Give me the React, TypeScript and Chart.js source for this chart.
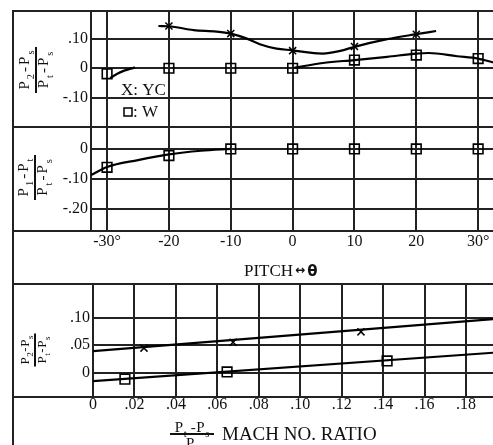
import React, { useEffect, useRef } from 'react';
import { Chart, registerables } from 'chart.js';

Chart.register(...registerables);

const WIDTH = 493;
const HEIGHT = 445;
const SERIF = '"Liberation Serif", "Times New Roman", Times, serif';
const SANS = '"DejaVu Sans", "Liberation Sans", sans-serif';
const INK = '#111111';
const RULE = '#222222';

// ---------------- data ----------------
// pitch axis (panels 1 and 2)
const PITCH_TICKS = [-30, -20, -10, 0, 10, 20, 30];
const PITCH_TICK_LABELS = ['-30°', '-20', '-10', '0', '10', '20', '30°'];
const PITCH_MIN = -32.6;
const PITCH_MAX = 32.4;

// panel 1: (P2-Ps)/(Pt-Ps) vs pitch
const P1_Y_TICKS = [-0.1, 0, 0.1];
const P1_Y_TICK_LABELS = ['-.10', '0', '.10'];
const P1_Y_MIN = -0.2;
const P1_Y_MAX = 0.195;
const YC1_MARK_PITCH = [-20, -10, 0, 10, 20];
const YC1_MARK_VAL = [0.144, 0.118, 0.06, 0.074, 0.116];
const YC1_CURVE_PITCH = [-21.7, -20, -16, -12.3, -10, -7.4, -5.3, -2.6, 0, 2.8, 4.9, 7.7, 10, 15.3, 20, 23.2];
const YC1_CURVE_VAL = [0.144, 0.143, 0.13, 0.125, 0.118, 0.101, 0.082, 0.067, 0.061, 0.053, 0.05, 0.059, 0.073, 0.099, 0.116, 0.127];
const W1_MARK_PITCH = [-30, -20, -10, 0, 10, 20, 30];
const W1_MARK_VAL = [-0.019, 0, 0, 0, 0.028, 0.045, 0.033];
const W1_CURVE_A_PITCH = [-29.5, -27.9, -25.5];
const W1_CURVE_A_VAL = [-0.033, -0.014, 0.003];
const W1_CURVE_B_PITCH = [0, 4.9, 10, 15.3, 20, 22, 26.6, 30, 32.4];
const W1_CURVE_B_VAL = [0.001, 0.018, 0.028, 0.039, 0.05, 0.052, 0.041, 0.033, 0.02];

// panel 2: (P1-Pt)/(Pt-Ps) vs pitch
const P2_Y_TICKS = [-0.2, -0.1, 0];
const P2_Y_TICK_LABELS = ['-.20', '-.10', '0'];
const P2_Y_MIN = -0.273;
const P2_Y_MAX = 0.073;
const W2_MARK_PITCH = [-30, -20, -10, 0, 10, 20, 30];
const W2_MARK_VAL = [-0.061, -0.022, 0, 0, 0, 0, 0];
const W2_CURVE_PITCH = [-32.6, -30, -25, -20, -14.8, -10];
const W2_CURVE_VAL = [-0.087, -0.06, -0.037, -0.018, -0.006, 0];

// panel 3: (P2-Ps)/(Pt-Ps) vs Mach number ratio
const MACH_TICKS = [0, 0.02, 0.04, 0.06, 0.08, 0.1, 0.12, 0.14, 0.16, 0.18];
const MACH_TICK_LABELS = ['0', '.02', '.04', '.06', '.08', '.10', '.12', '.14', '.16', '.18'];
const MACH_MIN = 0;
const MACH_MAX = 0.193;
const P3_Y_TICKS = [0, 0.05, 0.1];
const P3_Y_TICK_LABELS = ['0', '.05', '.10'];
const P3_Y_MIN = -0.0445;
const P3_Y_MAX = 0.161;
const YC3_MARK_RATIO = [0.0246, 0.0676, 0.1293];
const YC3_MARK_VAL = [0.0445, 0.055, 0.074];
const YC3_LINE_RATIO = [0, 0.193];
const YC3_LINE_VAL = [0.039, 0.097];
const W3_MARK_RATIO = [0.0154, 0.0647, 0.1419];
const W3_MARK_VAL = [-0.012, 0.001, 0.021];
const W3_LINE_RATIO = [0, 0.193];
const W3_LINE_VAL = [-0.0155, 0.036];

// text
type Piece = [string, number];
const NUM_P2_PS: Piece[] = [['P', 0], ['2', 1], ['-', 0], ['P', 0], ['s', 1]];
const NUM_P1_PT: Piece[] = [['P', 0], ['1', 1], ['-', 0], ['P', 0], ['t', 1]];
const DEN_PT_PS: Piece[] = [['P', 0], ['t', 1], ['-', 0], ['P', 0], ['s', 1]];
const MACH_NUM: Piece[] = [['P', 0], ['t', 1], [' -', 0], ['P', 0], ['s', 1]];
const MACH_DEN: Piece[] = [['P', 0], ['t', 1]];
const MACH_TEXT = 'MACH NO. RATIO';
const PITCH_TEXT = 'PITCH';
const LEGEND_YC = 'X: YC';
const LEGEND_W = ': W';

// ---------------- layout ----------------
const FRAME_LEFT = 13;
const FRAME_TOP = 11;
const PLOT_LEFT_12 = 91;
const P1_BOTTOM = 127;
const P2_BOTTOM = 231;
const P3_TOP = 284;
const P3_BOTTOM = 397;
const PLOT_LEFT_3 = 93;

const pts = (xs: number[], ys: number[]) => xs.map((x, i) => ({ x, y: ys[i] }));

function setFont(ctx: CanvasRenderingContext2D, size: number, sub: number) {
  ctx.font = `${sub ? size * 0.7 : size}px ${SERIF}`;
}
function richWidth(ctx: CanvasRenderingContext2D, pieces: Piece[], size: number, gap: number) {
  let w = 0;
  pieces.forEach(([t, sub], i) => {
    setFont(ctx, size, sub);
    w += ctx.measureText(t).width;
    if (i < pieces.length - 1) w += gap;
  });
  return w;
}
function drawRich(ctx: CanvasRenderingContext2D, pieces: Piece[], x: number, y: number, size: number, gap: number) {
  let cx = x;
  pieces.forEach(([t, sub]) => {
    setFont(ctx, size, sub);
    ctx.fillText(t, cx, y + (sub ? size * 0.3 : 0));
    cx += ctx.measureText(t).width + gap;
  });
}
function drawFraction(ctx: CanvasRenderingContext2D, o: any) {
  ctx.save();
  ctx.translate(o.cx, o.cy);
  if (o.rotate) ctx.rotate(-Math.PI / 2);
  ctx.fillStyle = INK;
  ctx.textAlign = 'left';
  ctx.textBaseline = 'alphabetic';
  const wn = richWidth(ctx, o.num, o.size, o.gap);
  const wd = richWidth(ctx, o.den, o.size, o.gap);
  drawRich(ctx, o.num, -wn / 2, o.numBase, o.size, o.gap);
  drawRich(ctx, o.den, -wd / 2, o.denBase, o.size, o.gap);
  ctx.strokeStyle = INK;
  ctx.lineWidth = 2;
  ctx.beginPath();
  ctx.moveTo(-o.bar / 2, 0);
  ctx.lineTo(o.bar / 2, 0);
  ctx.stroke();
  ctx.restore();
}
function hLine(ctx: CanvasRenderingContext2D, y: number, x0: number, x1: number) {
  ctx.beginPath();
  ctx.moveTo(x0, y);
  ctx.lineTo(x1, y);
  ctx.stroke();
}
function vLine(ctx: CanvasRenderingContext2D, x: number, y0: number, y1: number) {
  ctx.beginPath();
  ctx.moveTo(x, y0);
  ctx.lineTo(x, y1);
  ctx.stroke();
}

const tickFont = { family: SERIF, size: 16, lineHeight: 1 };
const gridOpts = { color: RULE, lineWidth: 2, drawTicks: false };
const borderOpts = { display: true, color: RULE, width: 2 };

function xScale(ticks: number[], labels: string[] | null, min: number, max: number, height: number, pad: number) {
  return {
    type: 'linear',
    position: 'bottom',
    min,
    max,
    grid: gridOpts,
    border: borderOpts,
    ticks: {
      display: !!labels,
      color: INK,
      font: tickFont,
      padding: pad,
      maxRotation: 0,
      autoSkip: false,
      callback: (_v: number, i: number) => (labels ? labels[i] : ''),
    },
    afterBuildTicks: (s: any) => {
      s.ticks = ticks.map((value) => ({ value }));
    },
    afterFit: (s: any) => {
      s.height = height;
    },
  };
}
function yScale(ticks: number[], labels: string[], min: number, max: number, width: number) {
  return {
    type: 'linear',
    position: 'left',
    min,
    max,
    grid: gridOpts,
    border: borderOpts,
    ticks: {
      color: INK,
      font: tickFont,
      padding: 3,
      autoSkip: false,
      callback: (_v: number, i: number) => labels[i],
    },
    afterBuildTicks: (s: any) => {
      s.ticks = ticks.map((value) => ({ value }));
    },
    afterFit: (s: any) => {
      s.width = width;
    },
  };
}

const curveDs = (data: any[], tension = true) => ({
  data,
  borderColor: '#000',
  borderWidth: 2.2,
  pointRadius: 0,
  fill: false,
  cubicInterpolationMode: tension ? 'monotone' : 'default',
  tension: 0,
});
const squareDs = (data: any[], r = 6.8) => ({
  data,
  showLine: false,
  pointStyle: 'rect',
  pointRadius: r,
  pointBorderWidth: 1.6,
  pointBorderColor: '#000',
  pointBackgroundColor: 'rgba(0,0,0,0)',
  borderColor: '#000',
});
const crossDs = (data: any[], r = 5) => ({
  data,
  showLine: false,
  pointStyle: 'crossRot',
  pointRadius: r,
  pointBorderWidth: 1.5,
  pointBorderColor: '#000',
  borderColor: '#000',
});

const baseOptions = (padding: any, scales: any) => ({
  responsive: false,
  animation: false,
  devicePixelRatio: 1,
  events: [],
  layout: { padding, autoPadding: false },
  plugins: { legend: { display: false }, tooltip: { enabled: false }, title: { display: false } },
  scales,
});

function panel1Config() {
  return {
    type: 'line',
    data: {
      datasets: [
        curveDs(pts(YC1_CURVE_PITCH, YC1_CURVE_VAL)),
        curveDs(pts(W1_CURVE_A_PITCH, W1_CURVE_A_VAL)),
        curveDs(pts(W1_CURVE_B_PITCH, W1_CURVE_B_VAL)),
        crossDs(pts(YC1_MARK_PITCH, YC1_MARK_VAL)),
        squareDs(pts(W1_MARK_PITCH, W1_MARK_VAL)),
      ],
    },
    options: baseOptions(
      { top: FRAME_TOP, left: FRAME_LEFT, right: 0, bottom: HEIGHT - P1_BOTTOM },
      {
        x: xScale(PITCH_TICKS, null, PITCH_MIN, PITCH_MAX, 0, 0),
        y: yScale(P1_Y_TICKS, P1_Y_TICK_LABELS, P1_Y_MIN, P1_Y_MAX, PLOT_LEFT_12 - FRAME_LEFT),
      }
    ),
    plugins: [
      {
        id: 'frame1',
        afterDraw(chart: any) {
          const ctx = chart.ctx as CanvasRenderingContext2D;
          const a = chart.chartArea;
          ctx.save();
          ctx.strokeStyle = RULE;
          ctx.lineWidth = 2;
          hLine(ctx, a.top, FRAME_LEFT, a.right);
          hLine(ctx, a.bottom, FRAME_LEFT, a.right);
          vLine(ctx, FRAME_LEFT, a.top - 1, chart.height);
          // legend
          ctx.fillStyle = INK;
          ctx.textAlign = 'left';
          ctx.textBaseline = 'alphabetic';
          ctx.font = `17px ${SERIF}`;
          ctx.fillText(LEGEND_YC, a.left + 30, a.top + 84);
          ctx.strokeStyle = '#000';
          ctx.lineWidth = 1.5;
          ctx.strokeRect(a.left + 33, a.top + 97, 8, 8);
          ctx.fillText(LEGEND_W, a.left + 42, a.top + 106);
          ctx.restore();
          drawFraction(ctx, {
            cx: FRAME_LEFT + 23,
            cy: (a.top + a.bottom) / 2 + 1,
            rotate: true,
            num: NUM_P2_PS,
            den: DEN_PT_PS,
            size: 15,
            gap: 2,
            bar: 46,
            numBase: -7,
            denBase: 12,
          });
        },
      },
    ],
  };
}

function panel2Config() {
  return {
    type: 'line',
    data: {
      datasets: [
        curveDs(pts(W2_CURVE_PITCH, W2_CURVE_VAL)),
        squareDs(pts(W2_MARK_PITCH, W2_MARK_VAL), 6.8),
      ],
    },
    options: baseOptions(
      { top: P1_BOTTOM, left: FRAME_LEFT, right: 0, bottom: HEIGHT - P3_TOP },
      {
        x: xScale(PITCH_TICKS, PITCH_TICK_LABELS, PITCH_MIN, PITCH_MAX, P3_TOP - P2_BOTTOM, 3),
        y: yScale(P2_Y_TICKS, P2_Y_TICK_LABELS, P2_Y_MIN, P2_Y_MAX, PLOT_LEFT_12 - FRAME_LEFT),
      }
    ),
    plugins: [
      {
        id: 'frame2',
        afterDraw(chart: any) {
          const ctx = chart.ctx as CanvasRenderingContext2D;
          const a = chart.chartArea;
          ctx.save();
          ctx.strokeStyle = RULE;
          ctx.lineWidth = 2;
          hLine(ctx, a.bottom, FRAME_LEFT, a.right);
          hLine(ctx, P3_TOP, FRAME_LEFT, a.right);
          // pitch title
          const mid = (a.left + a.right) / 2;
          let x = mid - 48;
          ctx.fillStyle = INK;
          ctx.textAlign = 'left';
          ctx.textBaseline = 'alphabetic';
          ctx.font = `17px ${SERIF}`;
          ctx.fillText(PITCH_TEXT, x, 275.5);
          x += ctx.measureText(PITCH_TEXT).width + 2;
          ctx.font = `bold 12px ${SANS}`;
          ctx.fillText('↔', x, 274);
          x += ctx.measureText('↔').width + 2;
          ctx.font = `bold 15px ${SANS}`;
          ctx.fillText('θ', x, 275.5);
          ctx.restore();
          drawFraction(ctx, {
            cx: FRAME_LEFT + 22,
            cy: (a.top + a.bottom) / 2 - 1.5,
            rotate: true,
            num: NUM_P1_PT,
            den: DEN_PT_PS,
            size: 15,
            gap: 2,
            bar: 45,
            numBase: -7,
            denBase: 12,
          });
        },
      },
    ],
  };
}

function panel3Config() {
  return {
    type: 'line',
    data: {
      datasets: [
        curveDs(pts(YC3_LINE_RATIO, YC3_LINE_VAL), false),
        curveDs(pts(W3_LINE_RATIO, W3_LINE_VAL), false),
        crossDs(pts(YC3_MARK_RATIO, YC3_MARK_VAL), 5),
        squareDs(pts(W3_MARK_RATIO, W3_MARK_VAL), 6.8),
      ],
    },
    options: baseOptions(
      { top: P3_TOP, left: FRAME_LEFT, right: 0, bottom: 0 },
      {
        x: xScale(MACH_TICKS, MACH_TICK_LABELS, MACH_MIN, MACH_MAX, HEIGHT - P3_BOTTOM, 0),
        y: yScale(P3_Y_TICKS, P3_Y_TICK_LABELS, P3_Y_MIN, P3_Y_MAX, PLOT_LEFT_3 - FRAME_LEFT),
      }
    ),
    plugins: [
      {
        id: 'frame3',
        afterDraw(chart: any) {
          const ctx = chart.ctx as CanvasRenderingContext2D;
          const a = chart.chartArea;
          ctx.save();
          ctx.strokeStyle = RULE;
          ctx.lineWidth = 2;
          hLine(ctx, a.top, FRAME_LEFT, a.right);
          hLine(ctx, a.bottom, FRAME_LEFT, a.right);
          ctx.fillStyle = INK;
          ctx.textAlign = 'left';
          ctx.textBaseline = 'alphabetic';
          ctx.font = `19px ${SERIF}`;
          ctx.fillText(MACH_TEXT, 222, 440);
          ctx.restore();
          drawFraction(ctx, {
            cx: 192,
            cy: 434,
            rotate: false,
            num: MACH_NUM,
            den: MACH_DEN,
            size: 15,
            gap: 0.5,
            bar: 44,
            numBase: -2,
            denBase: 14,
          });
          drawFraction(ctx, {
            cx: FRAME_LEFT + 22,
            cy: (a.top + a.bottom) / 2 + 9.5,
            rotate: true,
            num: NUM_P2_PS,
            den: DEN_PT_PS,
            size: 13,
            gap: 0.5,
            bar: 33,
            numBase: -6,
            denBase: 11,
          });
        },
      },
    ],
  };
}

function ChartCanvas({ makeConfig }: { makeConfig: () => any }) {
  const ref = useRef<HTMLCanvasElement>(null);
  useEffect(() => {
    if (!ref.current) return;
    const chart = new Chart(ref.current, makeConfig());
    return () => chart.destroy();
  }, [makeConfig]);
  return (
    <canvas
      ref={ref}
      width={WIDTH}
      height={HEIGHT}
      style={{ position: 'absolute', left: 0, top: 0, width: WIDTH, height: HEIGHT }}
    />
  );
}

export default function App() {
  return (
    <div style={{ position: 'absolute', left: 0, top: 0, width: WIDTH, height: HEIGHT, background: '#fff', overflow: 'hidden' }}>
      <ChartCanvas makeConfig={panel1Config} />
      <ChartCanvas makeConfig={panel2Config} />
      <ChartCanvas makeConfig={panel3Config} />
    </div>
  );
}
